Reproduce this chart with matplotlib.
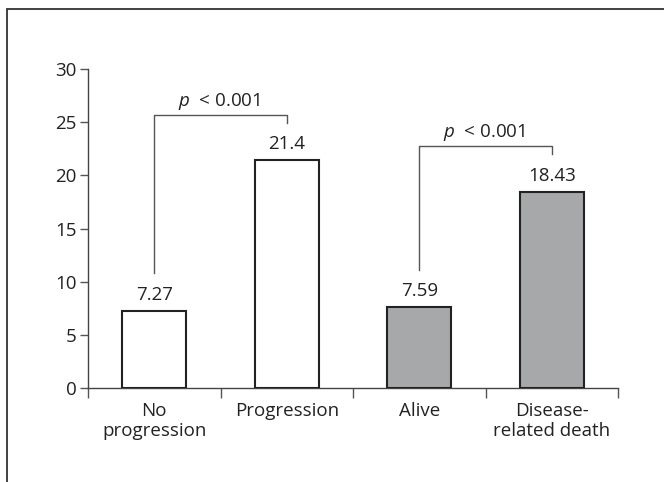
import matplotlib.pyplot as plt
from matplotlib.patches import Rectangle

plt.rcParams['font.family'] = ['Open Sans', 'DejaVu Sans']
plt.rcParams['mathtext.fontset'] = 'custom'
plt.rcParams['mathtext.it'] = 'Open Sans:italic'
plt.rcParams['mathtext.rm'] = 'Open Sans'

categories = ['No\nprogression', 'Progression', 'Alive', 'Disease-\nrelated death']
values = [7.27, 21.4, 7.59, 18.43]
value_labels = ['7.27', '21.4', '7.59', '18.43']
fill_colors = ['white', 'white', '#a7a8aa', '#a7a8aa']

# brackets: (left bar, right bar, left end y, top y, right end y)
brackets = [(0, 1, 10.8, 25.7, 24.9), (2, 3, 11.1, 22.8, 22.0)]
bracket_text = [r'$p$  < 0.001', r'$p$  < 0.001']

fs = 13.5

fig = plt.figure(figsize=(6.64, 4.82), dpi=100)
ax = fig.add_axes([88 / 664, 1 - 388 / 482, 530 / 664, 319 / 482])

x = list(range(len(values)))
ax.bar(x, values, width=0.485, color=fill_colors, edgecolor='#222222', linewidth=1.5, zorder=3)

for xi, v, lab in zip(x, values, value_labels):
    ax.annotate(lab, (xi, v), xytext=(0, 8), textcoords='offset points',
                ha='center', va='baseline', fontsize=fs, color='#222222')

for (a, b, ya, yt, yb), txt in zip(brackets, bracket_text):
    ax.plot([a, a, b, b], [ya, yt, yt, yb], color='#555555', lw=1.0, zorder=2)
    ax.annotate(txt, ((a + b) / 2, yt), xytext=(-1, 6.5), textcoords='offset points',
                ha='center', va='baseline', fontsize=fs, color='#222222')

ax.set_xlim(-0.5, 3.5)
ax.set_ylim(0, 30)
ax.set_yticks([0, 5, 10, 15, 20, 25, 30])
ax.set_xticks([-0.5, 0.5, 1.5, 2.5, 3.5])
ax.set_xticklabels([])
ax.set_xticks(x, minor=True)
ax.set_xticklabels(categories, minor=True, fontsize=fs, color='#222222', linespacing=1.12)
ax.tick_params(axis='x', which='minor', length=0, pad=10)
ax.tick_params(axis='x', which='major', length=7, width=1, color='#555555')
ax.tick_params(axis='y', length=6, width=1, color='#555555', labelsize=fs, labelcolor='#222222', pad=2)

for s in ['top', 'right']:
    ax.spines[s].set_visible(False)
for s in ['left', 'bottom']:
    ax.spines[s].set_color('#444444')
    ax.spines[s].set_linewidth(1.0)

# outer frame of the figure panel
fig.add_artist(Rectangle((7 / 664, -0.1), 1.2, 1.1 - 9 / 482, transform=fig.transFigure,
                         fill=False, edgecolor='#333333', linewidth=1.3))

fig.savefig('out.png', dpi=100)
